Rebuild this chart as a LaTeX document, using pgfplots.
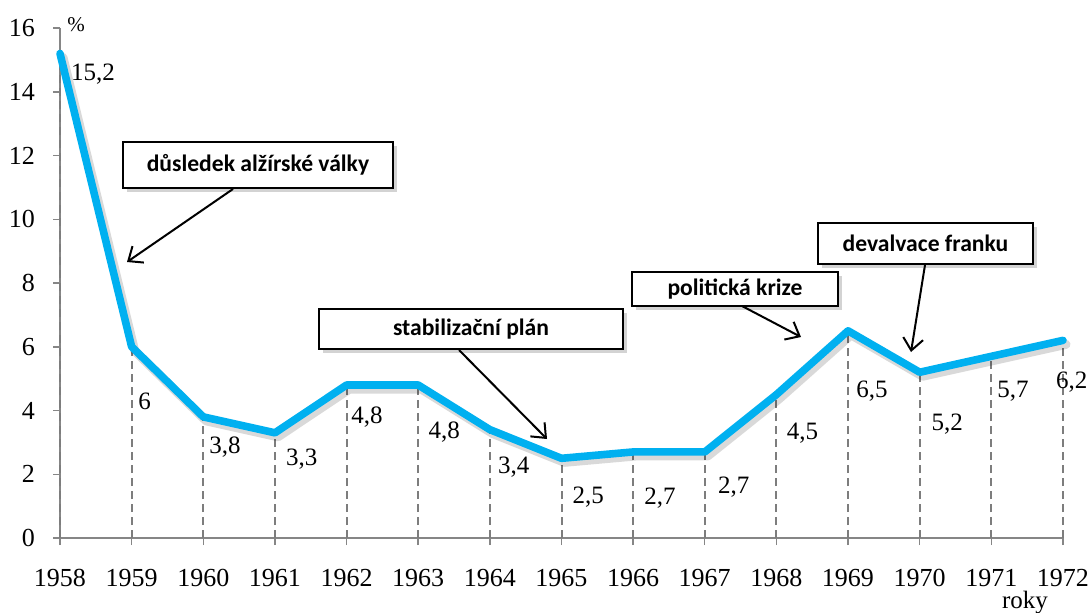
\documentclass[border=0pt]{standalone}
\usepackage{fontspec}
\setmainfont{Liberation Serif}
\newfontfamily\calib{Carlito}
\usepackage{pgfplots}
\pgfplotsset{compat=1.18}
\usepackage{pgfplotstable}
\usetikzlibrary{arrows.meta,shadows}
\definecolor{linecyan}{RGB}{0,176,240}
\definecolor{axgray}{RGB}{134,134,134}
\definecolor{dashgray}{RGB}{125,125,125}

\pgfplotstableread{
year val
1958 15.2
1959 6
1960 3.8
1961 3.3
1962 4.8
1963 4.8
1964 3.4
1965 2.5
1966 2.7
1967 2.7
1968 4.5
1969 6.5
1970 5.2
1971 5.7
1972 6.2
}\datatable

\pgfplotstableread{
x y lab
1958.15 14.56 15,2
1959.09 4.30 6
1960.08 2.85 3,8
1961.15 2.48 3,3
1962.06 3.80 4,8
1963.14 3.33 4,8
1964.11 2.23 3,4
1965.15 1.28 2,5
1966.15 1.25 2,7
1967.18 1.61 2,7
1968.14 3.30 4,5
1969.11 4.62 6,5
1970.16 3.56 5,2
1971.08 4.59 5,7
1971.90 4.89 6,2
}\labtable

\tikzset{annbox/.style={draw=black, line width=0.75pt, fill=white,
  drop shadow={shadow xshift=2pt, shadow yshift=-2pt, opacity=0.35, fill=gray}},
  annarrow/.style={line width=1pt, -{Straight Barb[length=6pt,width=10pt]}},
  anntext/.style={font=\calib\bfseries\fontsize{11.8}{14}\selectfont, inner sep=0pt}}

\begin{document}
\begin{tikzpicture}
\begin{axis}[
  at={(0,0)}, anchor=south west,
  scale only axis, width=501.5pt, height=255pt,
  xmin=1958, xmax=1972, ymin=0, ymax=16,
  axis x line*=bottom, axis y line*=left,
  xtick={1958,...,1972}, ytick={0,2,...,16},
  xticklabel style={/pgf/number format/1000 sep={}, yshift=-8.5pt},
  yticklabel style={xshift=-5.5pt},
  tick align=outside, major tick length=3.5pt,
  axis line style={axgray, line width=0.75pt},
  tick style={axgray, line width=0.75pt},
  ticklabel style={font=\fontsize{13}{15}\selectfont},
  /pgf/number format/assume math mode=true,
  clip=false,
]
\addplot[dashgray, ycomb, dash pattern=on 4pt off 2.5pt, line width=1pt, mark=none] table[x=year,y=val]{\datatable};
\addplot[black, opacity=0.15, line width=4.5pt, xshift=1.5pt, yshift=-2pt, line join=round, line cap=round, mark=none] table[x=year,y=val]{\datatable};
\addplot[linecyan, line width=3.8pt, line join=round, line cap=round, mark=none] table[x=year,y=val]{\datatable};
\addplot[only marks, mark=none, nodes near coords, point meta=explicit symbolic,
  every node near coord/.append style={font=\fontsize{12.5}{14}\selectfont, inner sep=0pt, anchor=west}]
  table[x=x,y=y,meta=lab]{\labtable};
\end{axis}
\begin{scope}[x=0.5pt,y=-0.5pt,shift={(-30pt,269pt)}]
  \node[font=\fontsize{10.5}{12}\selectfont, inner sep=0pt] at (76,25) {\%};
  \node[font=\fontsize{12.5}{14}\selectfont, inner sep=0pt] at (1025,603) {roky};
  \filldraw[annbox] (123,142) rectangle (393,188);
  \node[anntext] at (258,165) {důsledek alžírské války};
  \draw[annarrow] (233,189) -- (127,262);
  \filldraw[annbox] (319,309) rectangle (623,349);
  \node[anntext] at (471,329) {stabilizační plán};
  \draw[annarrow] (459,350) -- (547,439);
  \filldraw[annbox] (632,272) rectangle (838,306);
  \node[anntext] at (735,289) {politická krize};
  \draw[annarrow] (742,306) -- (801,337);
  \filldraw[annbox] (818,223) rectangle (1033,264);
  \node[anntext] at (925.5,243.5) {devalvace franku};
  \draw[annarrow] (925,265) -- (911,352);
\end{scope}
\pgfresetboundingbox
\path[use as bounding box] (-30pt,-37pt) rectangle (516pt,269pt);
\end{tikzpicture}
\end{document}
